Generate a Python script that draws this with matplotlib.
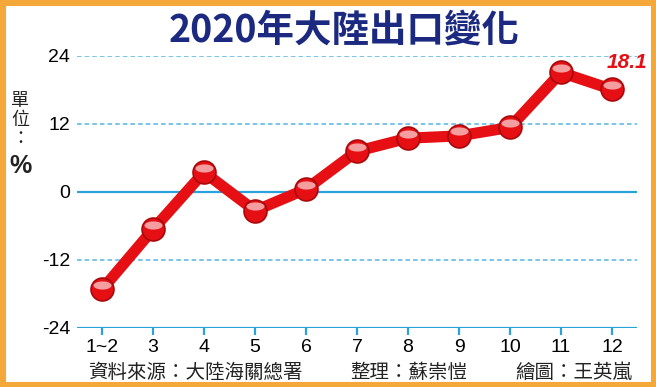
import matplotlib
matplotlib.use("Agg")
import matplotlib.pyplot as plt
import matplotlib.transforms as mtransforms
from matplotlib.patches import Rectangle
from matplotlib.path import Path
import numpy as np

plt.rcParams['font.family'] = ['Liberation Sans', 'Noto Sans CJK TC', 'DejaVu Sans']

months = ["1~2", "3", "4", "5", "6", "7", "8", "9", "10", "11", "12"]
growth = [-17.2, -6.6, 3.5, -3.3, 0.5, 7.2, 9.5, 9.9, 11.4, 21.1, 18.1]
yticks = [-24, -12, 0, 12, 24]

blue = "#2aa3dc"
red = "#e50f14"

fig = plt.figure(figsize=(6.56, 3.87), dpi=100)
W, H = 656, 387
ax = fig.add_axes([77 / W, (H - 328) / H, 560 / W, (328 - 56) / H])

x = list(range(len(months)))
ax.set_xlim(-0.49, 10.49)
ax.set_ylim(-24, 24)
for s in ax.spines.values():
    s.set_visible(False)

# grid lines
for v in yticks:
    if v == 0 or v == -24:
        ax.axhline(v, color=blue, lw=1.6, zorder=1)
    else:
        ax.axhline(v, color=blue, lw=1.1, ls=(0, (3, 2)), alpha=0.8, zorder=1)

ax.set_yticks(yticks)
ax.set_yticklabels([str(v) for v in yticks], fontsize=14)
ax.tick_params(axis='y', length=0, pad=5)
ax.set_xticks(x)
ax.set_xticklabels(months, fontsize=14)
ax.tick_params(axis='x', length=5, width=1.6, color=blue, pad=3, direction='out')

# line + markers
ax.plot(x, growth, color=red, lw=8, solid_capstyle='round', zorder=3)
ax.plot(x, growth, 'o', ms=16.5, color=red, mec="#a8090c", mew=1.2, zorder=4)
# glossy highlight (flat ellipse on top of each ball)
t = np.linspace(0, 2 * np.pi, 40)
gloss = Path(np.column_stack([np.cos(t), 0.45 * np.sin(t)]))
hl = mtransforms.offset_copy(ax.transData, fig=fig, x=0, y=4.5, units='dots')
ax.plot(x, growth, ls='none', marker=gloss, ms=13, color="white", alpha=0.6,
        mew=0, transform=hl, zorder=5)

ax.text(x[-1] + 0.3, growth[-1] + 3.0, "18.1", color=red, fontsize=15,
        fontweight='bold', style='italic', ha='center', va='bottom', zorder=6)

# title
fig.text(344 / W, 1 - 31 / H, "2020年大陸出口變化", color="#1b2a80", fontsize=27,
         fontweight='black', ha='center', va='center',
         family=['Liberation Sans Narrow', 'Noto Sans CJK TC', 'DejaVu Sans'])

# unit label
fig.text(20 / W, 1 - 120 / H, "單\n位\n：", fontsize=13, ha='center', va='center',
         linespacing=1.1, family=['Noto Sans CJK TC'], color="#222222")
fig.text(20 / W, 1 - 166 / H, "%", fontsize=18, fontweight='bold', ha='center',
         va='center', color="#222222")

# footer
fy = 1 - 372 / H
fig.text(88 / W, fy, "資料來源：大陸海關總署", fontsize=14, ha='left', va='center',
         family=['Noto Sans CJK TC'], color="#222222")
fig.text(350 / W, fy, "整理：蘇崇愷", fontsize=14, ha='left', va='center',
         family=['Noto Sans CJK TC'], color="#222222")
fig.text(632 / W, fy, "繪圖：王英嵐", fontsize=14, ha='right', va='center',
         family=['Noto Sans CJK TC'], color="#222222")

# orange frame
fig.patches.append(Rectangle((0, 0), 1, 1, transform=fig.transFigure, fill=False,
                             edgecolor="#f4a83a", linewidth=8))

fig.savefig("out.png", dpi=100)
